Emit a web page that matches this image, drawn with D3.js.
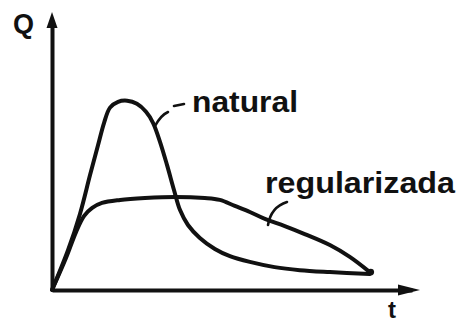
<!DOCTYPE html>
<html>
<head>
<meta charset="utf-8">
<script src="https://cdn.jsdelivr.net/npm/d3@7"></script>
<style>
  html, body { margin: 0; padding: 0; background: #fff; }
  svg { display: block; }
  text { font-family: "Liberation Sans", Arial, sans-serif; font-weight: bold; fill: #111; }
</style>
</head>
<body>
<svg id="chart" width="463" height="322"></svg>
<script>
// Hydrograph: natural flow vs. regulated flow over time
const tNatural = [0, 0.46, 0.8, 1.09, 1.32, 1.49, 1.66, 1.89, 2.15, 2.43, 2.69, 2.89, 3.09, 3.29, 3.49, 3.66, 3.89, 4.23, 4.66, 5.09, 5.66, 6.37, 7.09, 7.95, 9.09];
const qNatural = [0, 1.45, 2.76, 4.18, 5.27, 6.07, 6.62, 6.83, 6.87, 6.76, 6.47, 6.07, 5.38, 4.54, 3.63, 2.91, 2.36, 1.89, 1.49, 1.23, 1.02, 0.83, 0.72, 0.65, 0.58];

const tRegulated = [0, 0.4, 0.69, 0.92, 1.15, 1.43, 1.95, 2.66, 3.52, 4.37, 4.8, 5.23, 5.66, 6.09, 6.66, 7.23, 7.95, 8.52, 9.09];
const qRegulated = [0, 1.16, 2.11, 2.69, 2.98, 3.16, 3.27, 3.34, 3.38, 3.34, 3.27, 3.05, 2.83, 2.58, 2.32, 2.03, 1.63, 1.2, 0.65];

const seriesNames = ["natural", "regularizada"];
const axisLabels = ["Q", "t"];

const svg = d3.select("#chart");
const x = d3.scaleLinear().domain([0, 10.3]).range([52, 412]);
const y = d3.scaleLinear().domain([0, 9.8]).range([290, 20]);

// Axes without ticks
const xAxis = d3.axisBottom(x).tickValues([]).tickSizeOuter(0);
const yAxis = d3.axisLeft(y).tickValues([]).tickSizeOuter(0);
svg.append("g").attr("transform", `translate(0,${y(0)})`).call(xAxis)
  .select(".domain").attr("stroke", "#111").attr("stroke-width", 4);
svg.append("g").attr("transform", `translate(${x(0)},0)`).call(yAxis)
  .select(".domain").attr("stroke", "#111").attr("stroke-width", 4);

// Arrow heads at the axis ends
const yTop = y.range()[1], xEnd = x.range()[1];
svg.append("path")
  .attr("d", `M${x(0)},${yTop - 8} L${x(0) + 5.5},${yTop + 8} L${x(0) - 5.5},${yTop + 8} Z`)
  .attr("fill", "#111");
svg.append("path")
  .attr("d", `M${xEnd + 8},${y(0)} L${xEnd - 14},${y(0) - 5.5} L${xEnd - 14},${y(0) + 5.5} Z`)
  .attr("fill", "#111");

// Axis labels
svg.append("text").attr("x", 13).attr("y", 33).attr("font-size", 27).text(axisLabels[0]);
svg.append("text").attr("x", 388).attr("y", 318).attr("font-size", 24).text(axisLabels[1]);

// Curves
const line = d3.line().x(d => x(d[0])).y(d => y(d[1])).curve(d3.curveCatmullRom.alpha(0.5));
const natural = d3.zip(tNatural, qNatural);
const regulated = d3.zip(tRegulated, qRegulated);

[regulated, natural].forEach(pts => {
  svg.append("path")
    .attr("d", line(pts))
    .attr("fill", "none")
    .attr("stroke", "#111")
    .attr("stroke-width", 4)
    .attr("stroke-linecap", "round")
    .attr("stroke-linejoin", "round");
});
// Where both recessions meet at the end
svg.append("circle")
  .attr("cx", x(tRegulated[tRegulated.length - 1]) + 1)
  .attr("cy", y(qRegulated[qRegulated.length - 1]))
  .attr("r", 3.4).attr("fill", "#111");

// Series labels with leaders
const natLabel = { x: 192, y: 112 };
svg.append("text").attr("x", natLabel.x).attr("y", natLabel.y).attr("font-size", 30)
  .attr("textLength", 106).attr("lengthAdjust", "spacingAndGlyphs").text(seriesNames[0]);
svg.append("path")
  .attr("d", `M${natLabel.x - 37},${natLabel.y + 14} Q${natLabel.x - 31},${natLabel.y + 3} ${natLabel.x - 24},${natLabel.y}`)
  .attr("fill", "none").attr("stroke", "#111").attr("stroke-width", 2.6).attr("stroke-linecap", "round");
svg.append("path")
  .attr("d", `M${natLabel.x - 18},${natLabel.y - 6} L${natLabel.x - 8},${natLabel.y - 8}`)
  .attr("fill", "none").attr("stroke", "#111").attr("stroke-width", 2.6).attr("stroke-linecap", "round");

const regLabel = { x: 265, y: 193 };
svg.append("text").attr("x", regLabel.x).attr("y", regLabel.y).attr("font-size", 30)
  .attr("textLength", 190).attr("lengthAdjust", "spacingAndGlyphs").text(seriesNames[1]);
svg.append("path")
  .attr("d", `M${regLabel.x + 3},${regLabel.y + 32} Q${regLabel.x + 6},${regLabel.y + 14} ${regLabel.x + 22},${regLabel.y + 9}`)
  .attr("fill", "none").attr("stroke", "#111").attr("stroke-width", 2.6).attr("stroke-linecap", "round");
</script>
</body>
</html>
